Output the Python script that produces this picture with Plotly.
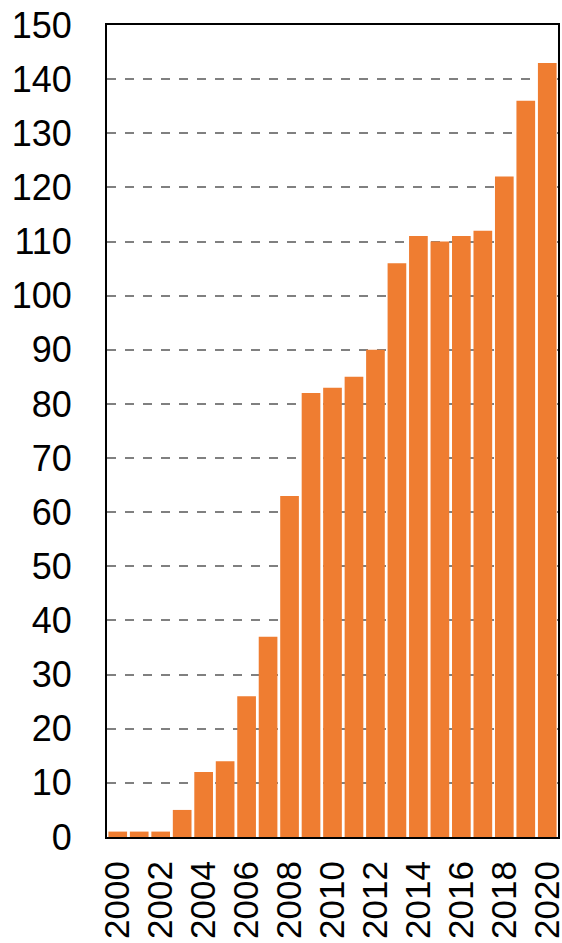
import plotly.graph_objects as go

years = list(range(2000, 2021))
values = [1, 1, 1, 5, 12, 14, 26, 37, 63, 82, 83, 85, 90, 106, 111, 110, 111, 112, 122, 136, 143]
y_ticks = list(range(0, 151, 10))
x_ticks = list(range(2000, 2021, 2))

fig = go.Figure()
fig.add_trace(go.Bar(
    x=years, y=values,
    marker=dict(color="#EF7D31", line=dict(width=0)),
    showlegend=False,
))

yfont = dict(family="Liberation Sans, Arial, sans-serif", size=36, color="black")
xfont = dict(family="Liberation Sans, Arial, sans-serif", size=35, color="black")

fig.update_layout(
    width=562, height=943,
    margin=dict(l=107, r=4, t=25, b=106, autoexpand=False),
    paper_bgcolor="white", plot_bgcolor="white",
    bargap=0.13,
    font=yfont,
)
fig.update_xaxes(
    range=[1999.5, 2020.5],
    tickvals=x_ticks, ticktext=[str(v) for v in x_ticks],
    tickangle=-90,
    showline=True, mirror=True, linecolor="black", linewidth=2,
    showgrid=False, zeroline=False, ticks="",
    ticklabelstandoff=8, ticklabeloverflow="allow",
    tickfont=xfont, automargin=False,
)
fig.update_yaxes(
    range=[0, 150],
    tickvals=y_ticks,
    showline=True, mirror=True, linecolor="black", linewidth=2,
    showgrid=True, gridcolor="#808080", gridwidth=1.5, griddash="dash",
    zeroline=False, ticks="",
    ticklabelstandoff=26, ticklabeloverflow="allow",
    tickfont=yfont, automargin=False,
)

fig.write_html(
    "out.html",
    config={"displayModeBar": False},
    post_script="document.body.style.margin='0';document.body.style.overflow='hidden';",
)
